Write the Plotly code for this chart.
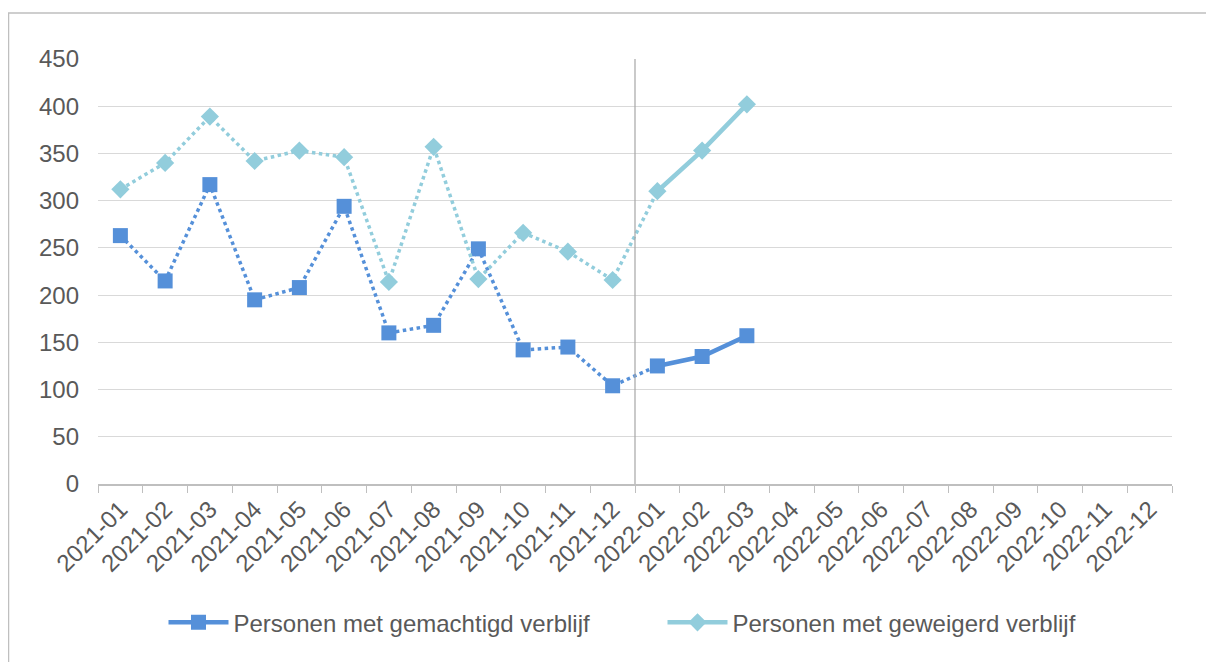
import plotly.graph_objects as go

months = [f"2021-{m:02d}" for m in range(1, 13)] + [f"2022-{m:02d}" for m in range(1, 13)]
gemachtigd = [263, 215, 317, 195, 208, 294, 160, 168, 249, 142, 145, 104, 125, 135, 157]
geweigerd = [312, 340, 389, 342, 353, 346, 214, 357, 217, 266, 246, 216, 310, 353, 402]
name_a = "Personen met gemachtigd verblijf"
name_b = "Personen met geweigerd verblijf"
split = 12  # first month of 2022

blue = "#5590D9"
light = "#92CDDC"
font = "Liberation Sans, Arial, sans-serif"
txt = "#595959"

fig = go.Figure()

def add(vals, name, color, symbol, msize):
    fig.add_trace(go.Scatter(
        x=months[:split + 1], y=vals[:split + 1], mode="lines",
        line=dict(color=color, width=3.5, dash="dot"),
        showlegend=False, hoverinfo="skip"))
    fig.add_trace(go.Scatter(
        x=months[split:len(vals)], y=vals[split:], mode="lines",
        line=dict(color=color, width=4.5),
        showlegend=False, hoverinfo="skip"))
    fig.add_trace(go.Scatter(
        x=months[:len(vals)], y=vals, mode="markers", name=name,
        marker=dict(symbol=symbol, size=msize, color=color),
        showlegend=False))
    # legend entry only
    fig.add_trace(go.Scatter(
        x=[None], y=[None], mode="lines+markers", name=name,
        line=dict(color=color, width=4.5),
        marker=dict(symbol=symbol, size=msize, color=color)))

add(gemachtigd, name_a, blue, "square", 15)
add(geweigerd, name_b, light, "diamond", 14)

fig.add_shape(type="line", xref="x", yref="paper",
              x0=split - 0.5, x1=split - 0.5, y0=0, y1=1,
              line=dict(color="#A6A6A6", width=1.2))

# outer chart border (left and top visible)
fig.add_shape(type="rect", xref="paper", yref="paper",
              x0=(8.5 - 98) / 1074, x1=1.2, y0=-0.6, y1=(484 - 13) / 425,
              line=dict(color="#BFBFBF", width=1.5), layer="below")

fig.update_layout(
    width=1214, height=662,
    margin=dict(l=90, r=50, t=51, b=186, autoexpand=False),
    plot_bgcolor="white", paper_bgcolor="white",
    font=dict(family=font, size=24, color=txt),
    legend=dict(orientation="h", x=0.5256, xanchor="center", y=-0.2735, yanchor="top",
                font=dict(size=24, color=txt), itemwidth=60,
                entrywidth=424, entrywidthmode="pixels"),
    showlegend=True,
)
fig.update_xaxes(
    type="category", categoryorder="array", categoryarray=months,
    range=[-0.5, len(months) - 0.5], automargin=False,
    tickangle=-45, tickson="boundaries", ticks="outside", ticklen=7,
    tickcolor="#BFBFBF", showline=True, linecolor="#BFBFBF", linewidth=1.5,
    showgrid=False, tickfont=dict(size=24, color=txt), zeroline=False,
)
fig.update_yaxes(
    range=[0, 450], dtick=50, showgrid=True, gridcolor="#D9D9D9", gridwidth=1.3,
    zeroline=False, showline=False, ticks="", tickfont=dict(size=24, color=txt),
    ticklabelstandoff=18, automargin=False,
)

fig.write_html("out.html")
